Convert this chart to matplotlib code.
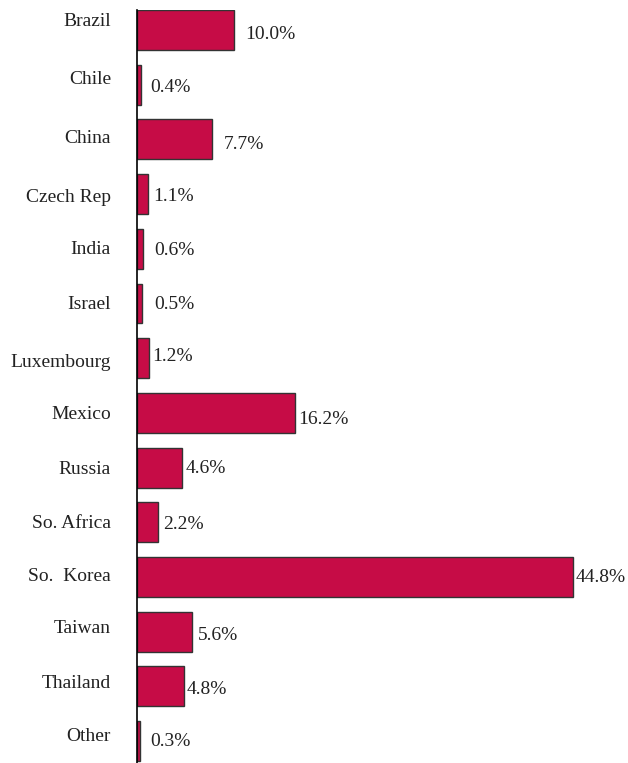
import matplotlib
matplotlib.use("Agg")
import matplotlib.pyplot as plt

# Share of total by country (%)
countries = ["Brazil", "Chile", "China", "Czech Rep", "India", "Israel",
             "Luxembourg", "Mexico", "Russia", "So. Africa", "So.  Korea",
             "Taiwan", "Thailand", "Other"]
shares = [10.0, 0.4, 7.7, 1.1, 0.6, 0.5, 1.2, 16.2, 4.6, 2.2, 44.8, 5.6, 4.8, 0.3]

# hand-placed label nudges, in pixels
label_gap = [11, 9, 12, 6, 11, 12, 4, 3, 4, 5, 2, 6, 3, 10]     # bar end -> value text
value_drop = [3, 1, 3, 0, 0, -1, -4, 5, -1, 0, -2, 2, 1, -2]    # value text below bar centre
name_lift = [10, 7, 3, -1, 1, 1, -2, 0, 0, 1, 3, 5, 5, 7]       # country name above bar centre

PX = 72 / 100   # pixels -> points at 100 dpi
TEXT_SHIFT = 2  # va="center" sits a touch high for caps-only text

plt.rcParams["font.family"] = ["Liberation Serif", "DejaVu Serif"]

fig = plt.figure(figsize=(6.28, 7.63), dpi=100)
ax = fig.add_axes([137 / 628, 0, 1 - 137 / 628, 1 - 10 / 763])

ypos = list(range(len(countries)))
ax.barh(ypos, shares, height=0.73, color="#C60C46",
        edgecolor="#333333", linewidth=1.0)

ax.set_ylim(13.4, -0.365)
ax.set_xlim(0, 50.4)

for i, (name, val) in enumerate(zip(countries, shares)):
    ax.annotate(name, xy=(0, i), xycoords=("axes fraction", "data"),
                xytext=(-26 * PX, (name_lift[i] - TEXT_SHIFT) * PX),
                textcoords="offset points",
                ha="right", va="center", fontsize=14, color="#222222")
    ax.annotate(f"{val:.1f}%", xy=(val, i),
                xytext=(label_gap[i] * PX, -(value_drop[i] + TEXT_SHIFT) * PX),
                textcoords="offset points", ha="left", va="center",
                fontsize=14, color="#222222")

for side in ["top", "right", "bottom"]:
    ax.spines[side].set_visible(False)
ax.spines["left"].set_linewidth(1.2)
ax.set_xticks([])
ax.set_yticks([])

fig.savefig("out.png", dpi=100)
